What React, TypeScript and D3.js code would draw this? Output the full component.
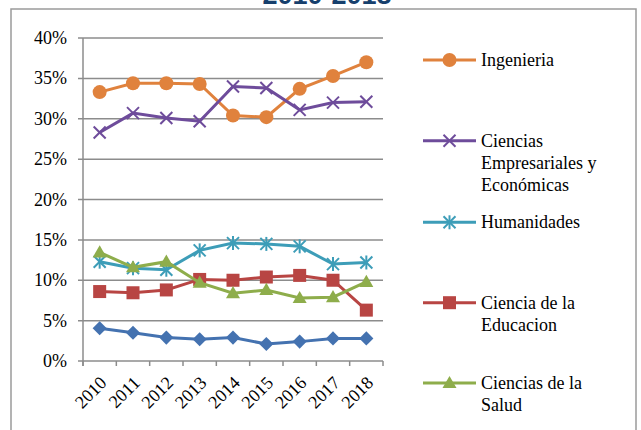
import React from "react";
import * as d3 from "d3";

const years = ["2010", "2011", "2012", "2013", "2014", "2015", "2016", "2017", "2018"];
const ingenieria = [33.3, 34.4, 34.4, 34.3, 30.4, 30.2, 33.7, 35.3, 37.0];
const empresariales = [28.3, 30.7, 30.1, 29.7, 34.0, 33.8, 31.1, 32.0, 32.1];
const humanidades = [12.3, 11.5, 11.3, 13.7, 14.6, 14.5, 14.2, 12.0, 12.2];
const educacion = [8.6, 8.45, 8.8, 10.1, 10.0, 10.4, 10.6, 10.0, 6.3];
const salud = [13.45, 11.6, 12.3, 9.7, 8.4, 8.8, 7.8, 7.9, 9.8];
const otros = [4.05, 3.5, 2.9, 2.7, 2.9, 2.1, 2.4, 2.8, 2.8];
const yTicks = [0, 5, 10, 15, 20, 25, 30, 35, 40];

type Series = { name: string[]; values: number[]; color: string; marker: string; legend: boolean };
const series: Series[] = [
  { name: ["Ingenieria"], values: ingenieria, color: "#E0823D", marker: "circle", legend: true },
  { name: ["Ciencias", "Empresariales y", "Económicas"], values: empresariales, color: "#6E4C9B", marker: "x", legend: true },
  { name: ["Humanidades"], values: humanidades, color: "#3D9DB8", marker: "star", legend: true },
  { name: ["Ciencia de la", "Educacion"], values: educacion, color: "#B84543", marker: "square", legend: true },
  { name: ["Ciencias de la", "Salud"], values: salud, color: "#8EAD4B", marker: "triangle", legend: true },
  { name: ["Otros"], values: otros, color: "#4472B0", marker: "diamond", legend: false },
];

const FONT = "'Liberation Serif', 'DejaVu Serif', serif";

function Marker({ type, x, y, color }: { type: string; x: number; y: number; color: string }) {
  switch (type) {
    case "circle":
      return <circle cx={x} cy={y} r={7} fill={color} />;
    case "square":
      return <rect x={x - 6.5} y={y - 6.5} width={13} height={13} fill={color} />;
    case "diamond":
      return <rect x={x - 5} y={y - 5} width={10} height={10} fill={color} transform={`rotate(45 ${x} ${y})`} />;
    case "triangle":
      return <path d={d3.symbol(d3.symbolTriangle, 85)()!} transform={`translate(${x},${y + 1})`} fill={color} />;
    case "x":
      return (
        <g stroke={color} strokeWidth={2}>
          <line x1={x - 6} y1={y - 6} x2={x + 6} y2={y + 6} />
          <line x1={x - 6} y1={y + 6} x2={x + 6} y2={y - 6} />
        </g>
      );
    case "star":
      return (
        <g stroke={color} strokeWidth={2}>
          <line x1={x - 6} y1={y - 6} x2={x + 6} y2={y + 6} />
          <line x1={x - 6} y1={y + 6} x2={x + 6} y2={y - 6} />
          <line x1={x} y1={y - 7} x2={x} y2={y + 7} />
        </g>
      );
  }
  return null;
}

export default function App() {
  const W = 641, H = 430;
  const left = 83, right = 383, top = 38, bottom = 361;
  const x = d3.scaleBand<string>().domain(years).range([left, right]);
  const y = d3.scaleLinear().domain([0, 40]).range([bottom, top]);
  const line = d3
    .line<number>()
    .x((_, i) => x(years[i])! + x.bandwidth() / 2)
    .y((d) => y(d));

  const legendY = [60, 140.7, 222.3, 302.7, 383];

  return (
    <svg width={W} height={H} style={{ position: "absolute", left: 0, top: 0, background: "#fff" }} fontFamily={FONT}>
      <rect x={0} y={0} width={W} height={H} fill="#fff" />
      <text x={327} y={4} textAnchor="middle" fontSize={27} fontWeight="bold" fill="#17406D" fontFamily="'Liberation Sans', Arial, sans-serif">
        2010-2018
      </text>
      <rect x={11} y={9} width={625} height={440} fill="none" stroke="#9a9a9a" strokeWidth={1.5} />

      {yTicks.map((t) => (
        <g key={t}>
          <line x1={left - 5} x2={right} y1={y(t)} y2={y(t)} stroke="#8c8c8c" strokeWidth={1.5} />
          <text x={67} y={y(t) + 6} textAnchor="end" fontSize={18} fill="#000">
            {t}%
          </text>
        </g>
      ))}
      <line x1={left} x2={left} y1={top} y2={bottom + 5} stroke="#8c8c8c" strokeWidth={1.5} />
      {d3.range(years.length + 1).map((i) => {
        const xx = left + i * x.step();
        return <line key={i} x1={xx} x2={xx} y1={bottom} y2={bottom + 5} stroke="#8c8c8c" strokeWidth={1.5} />;
      })}
      {years.map((yr) => {
        const cx = x(yr)! + x.bandwidth() / 2 + 8;
        const cy = 384;
        return (
          <text key={yr} x={cx} y={cy} textAnchor="end" fontSize={18} transform={`rotate(-45 ${cx} ${cy})`}>
            {yr}
          </text>
        );
      })}

      {series.map((s) => (
        <g key={s.name.join(" ")}>
          <path d={line(s.values)!} fill="none" stroke={s.color} strokeWidth={3} />
          {s.values.map((v, i) => (
            <Marker key={i} type={s.marker} x={x(years[i])! + x.bandwidth() / 2} y={y(v)} color={s.color} />
          ))}
        </g>
      ))}

      {series.filter((s) => s.legend).map((s, k) => {
        const ly = legendY[k];
        return (
          <g key={"lg" + k}>
            <line x1={423} x2={476} y1={ly} y2={ly} stroke={s.color} strokeWidth={3} />
            <Marker type={s.marker} x={449.5} y={ly} color={s.color} />
            <text x={481} y={ly + 6} fontSize={18} fill="#000">
              {s.name.map((n, j) => (
                <tspan key={j} x={481} dy={j === 0 ? 0 : 22}>
                  {n}
                </tspan>
              ))}
            </text>
          </g>
        );
      })}
    </svg>
  );
}
